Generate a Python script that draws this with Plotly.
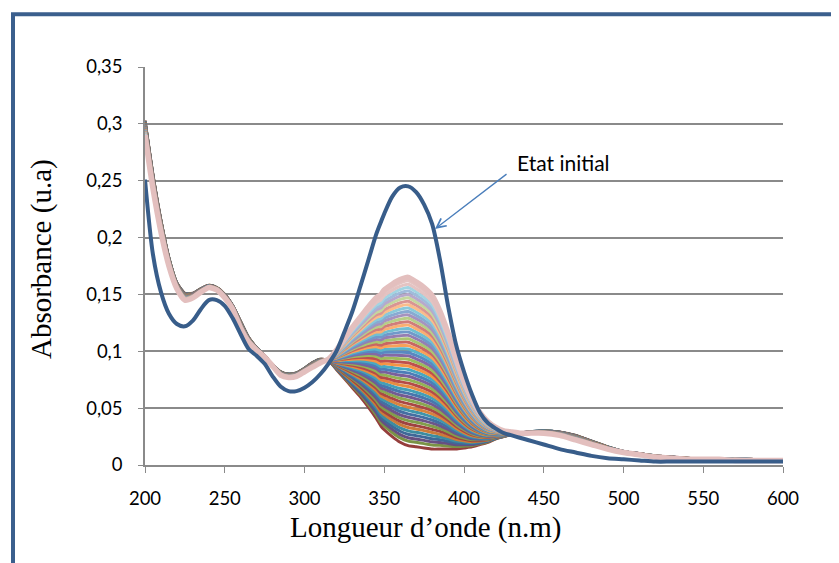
import plotly.graph_objects as go

# ---------------- data ----------------
wavelength = [200, 205, 210, 215, 220, 225, 230, 235, 240, 245, 250, 255, 260, 265, 270, 275,
              280, 285, 290, 295, 300, 305, 310, 315, 320, 325, 330, 335, 340, 345, 348, 350,
              355, 360, 365, 370, 375, 380, 385, 390, 395, 400, 405, 410, 415, 420, 425, 430,
              435, 440, 450, 460, 470, 480, 490, 500, 510, 520, 530, 540, 550, 560, 570, 580,
              590, 600]

# initial state (thick dark blue curve)
etat_initial = [0.251, 0.185, 0.152, 0.133, 0.124, 0.122, 0.127, 0.137, 0.145, 0.145, 0.140, 0.129,
                0.115, 0.102, 0.096, 0.089, 0.078, 0.069, 0.065, 0.065, 0.068, 0.073, 0.080, 0.089,
                0.100, 0.117, 0.135, 0.157, 0.180, 0.203, 0.214, 0.221, 0.236, 0.244, 0.245, 0.240,
                0.229, 0.212, 0.180, 0.140, 0.106, 0.082, 0.062, 0.046, 0.037, 0.032, 0.028, 0.026,
                0.024, 0.022, 0.018, 0.014, 0.011, 0.008, 0.006, 0.005, 0.004, 0.003, 0.003, 0.003,
                0.003, 0.003, 0.003, 0.003, 0.003, 0.003]

# first spectrum after the initial state (light pink, highest remaining peak)
spectre_premier = [0.290, 0.243, 0.205, 0.175, 0.155, 0.145, 0.147, 0.152, 0.156, 0.154, 0.147, 0.137,
                   0.120, 0.108, 0.101, 0.095, 0.087, 0.079, 0.077, 0.078, 0.082, 0.086, 0.090, 0.093,
                   0.101, 0.111, 0.121, 0.130, 0.139, 0.147, 0.150, 0.154, 0.159, 0.163, 0.165, 0.161,
                   0.156, 0.149, 0.135, 0.116, 0.094, 0.074, 0.058, 0.046, 0.038, 0.033, 0.030, 0.029,
                   0.028, 0.028, 0.028, 0.026, 0.022, 0.018, 0.014, 0.011, 0.009, 0.007, 0.006, 0.005,
                   0.005, 0.005, 0.004, 0.004, 0.004, 0.004]

# last spectrum (dark red, lowest peak)
spectre_dernier = [0.303, 0.255, 0.215, 0.182, 0.160, 0.151, 0.151, 0.155, 0.158, 0.156, 0.150, 0.140,
                   0.126, 0.112, 0.103, 0.096, 0.088, 0.082, 0.080, 0.081, 0.085, 0.090, 0.093, 0.092,
                   0.084, 0.076, 0.068, 0.060, 0.051, 0.041, 0.034, 0.031, 0.025, 0.020, 0.017, 0.016,
                   0.015, 0.014, 0.014, 0.014, 0.014, 0.015, 0.016, 0.018, 0.020, 0.023, 0.025, 0.027,
                   0.028, 0.029, 0.030, 0.029, 0.026, 0.021, 0.016, 0.012, 0.010, 0.008, 0.007, 0.006,
                   0.005, 0.005, 0.005, 0.005, 0.004, 0.004]

# absorbance at 365 nm of every successive spectrum (read from the stripes)
pics_365 = [0.165, 0.162, 0.159, 0.156, 0.153, 0.150, 0.147, 0.144, 0.141, 0.138,
            0.135, 0.132, 0.129, 0.126, 0.123, 0.120, 0.117, 0.114, 0.111, 0.108,
            0.105, 0.102, 0.099, 0.096, 0.093, 0.090, 0.087, 0.084, 0.081, 0.078,
            0.075, 0.072, 0.069, 0.066, 0.063, 0.060, 0.057, 0.054, 0.051, 0.048,
            0.045, 0.042, 0.039, 0.036, 0.033, 0.030, 0.027, 0.024, 0.021, 0.017]

x_ticks = [200, 250, 300, 350, 400, 450, 500, 550, 600]
y_ticks = [0, 0.05, 0.1, 0.15, 0.2, 0.25, 0.3, 0.35]
y_tick_labels = ["0", "0,05", "0,1", "0,15", "0,2", "0,25", "0,3", "0,35"]

# ---------------- build the spectra ----------------
i365 = wavelength.index(365)
top_p, bot_p = spectre_premier[i365], spectre_dernier[i365]
spectres = []
for p in pics_365:
    f = (p - bot_p) / (top_p - bot_p)
    spectres.append([b + f * (t - b) for t, b in zip(spectre_premier, spectre_dernier)])

cycle = ["#C0504D", "#9BBB59", "#8064A2", "#4F81BD", "#4BACC6", "#F79646"]


def mix(hexc, target, a):
    r, g, b = int(hexc[1:3], 16), int(hexc[3:5], 16), int(hexc[5:7], 16)
    r = round(r + (target - r) * a)
    g = round(g + (target - g) * a)
    b = round(b + (target - b) * a)
    return f"rgb({r},{g},{b})"


fig = go.Figure()
n = len(spectres)
order = list(range(n - 1, -1, -1))  # draw lowest first, pink last
for k, idx in enumerate(order):
    t = k / (n - 1)
    base = cycle[k % 6]
    if t < 0.5:
        col = mix(base, 0, (0.5 - t) * 0.45)
    else:
        col = mix(base, 255, (t - 0.5) * 1.1)
    width = 3
    if idx == 0:
        col = "#E3BFBE"
        width = 5.5
    elif idx <= 2:
        col = mix("#D9A9A8", 255, 0.3)
    fig.add_trace(go.Scatter(x=wavelength, y=spectres[idx], mode="lines",
                             line=dict(color=col, width=width, shape="spline", smoothing=0.6),
                             hoverinfo="skip", showlegend=False))

fig.add_trace(go.Scatter(x=wavelength, y=etat_initial, mode="lines",
                         line=dict(color="#385D8A", width=4, shape="spline", smoothing=0.8),
                         hoverinfo="skip", showlegend=False))

axis_grey = "#8A8A8A"
fig.update_layout(
    width=831, height=555,
    margin=dict(l=137, r=56, t=59, b=98),
    paper_bgcolor="white", plot_bgcolor="white",
    showlegend=False,
    font=dict(family="Lato", size=18.5, color="black"),
    xaxis=dict(range=[200, 600], tickvals=x_ticks, ticks="outside", ticklen=6,
               tickcolor=axis_grey, tickwidth=1.3, showgrid=False, zeroline=False,
               showline=True, linecolor=axis_grey, linewidth=1.5,
               ticklabelstandoff=10, tickfont=dict(family="Lato", size=18.5, color="black")),
    yaxis=dict(range=[0, 0.35], tickvals=y_ticks, ticktext=y_tick_labels, ticks="outside",
               ticklen=5, tickcolor=axis_grey, tickwidth=1.3, showgrid=True,
               gridcolor=axis_grey, gridwidth=1.5, zeroline=False, showline=True,
               linecolor=axis_grey, linewidth=1.5, ticklabelstandoff=12,
               tickfont=dict(family="Lato", size=18.5, color="black")),
)

# outer frame
fig.add_shape(type="rect", xref="paper", yref="paper",
              x0=-0.2069, x1=2.0, y0=-2.0, y1=1.1324,
              line=dict(color="#3B5F8D", width=4), fillcolor="rgba(0,0,0,0)", layer="below")

# axis titles
fig.add_annotation(xref="paper", yref="paper", x=0.4397, y=-0.156, text="Longueur d’onde (n.m)",
                   showarrow=False, xanchor="center", yanchor="middle",
                   font=dict(family="Liberation Serif", size=29, color="black"))
fig.add_annotation(xref="paper", yref="paper", x=-0.1614, y=0.5176, text="Absorbance (u.a)",
                   showarrow=False, textangle=-90, xanchor="center", yanchor="middle",
                   font=dict(family="Liberation Serif", size=29, color="black"))

# arrow and label
fig.add_annotation(x=381.8, y=0.2076, ax=427.6, ay=0.2568, axref="x", ayref="y",
                   xref="x", yref="y", text="", showarrow=True, arrowhead=5,
                   arrowsize=1.4, arrowwidth=1.3, arrowcolor="#4A7EBB")
fig.add_annotation(x=432, y=0.2656, xref="x", yref="y", text="Etat initial", showarrow=False,
                   xanchor="left", yanchor="middle",
                   font=dict(family="Lato", size=21, color="black"))

fig.write_html("out.html")
